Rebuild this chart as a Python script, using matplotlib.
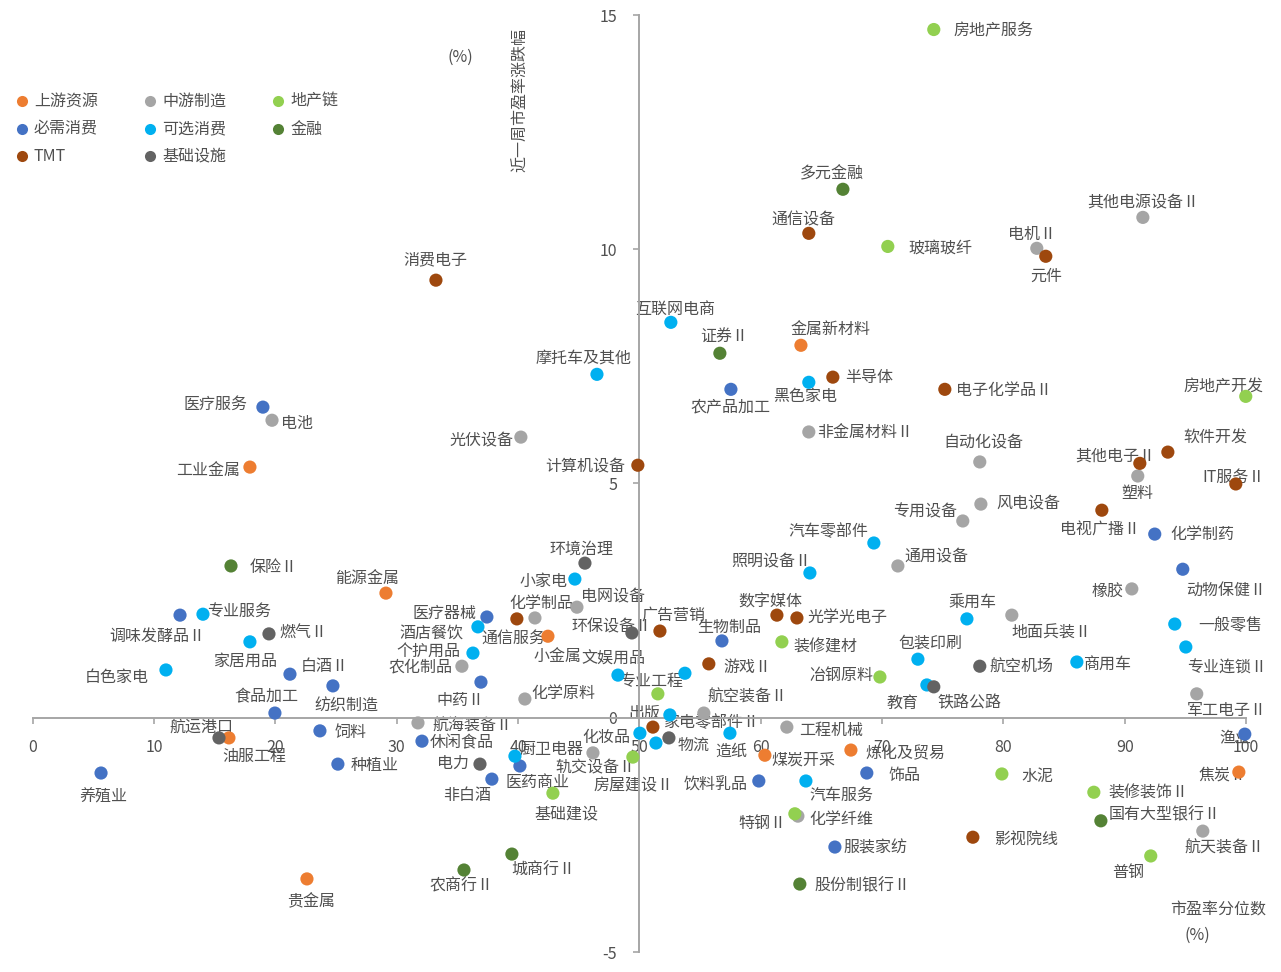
import matplotlib
matplotlib.use('Agg')
import matplotlib.pyplot as plt
from matplotlib.lines import Line2D

plt.rcParams['font.family'] = ['Noto Sans CJK SC', 'DejaVu Sans']
plt.rcParams['axes.unicode_minus'] = False

W, H = 1281, 972

# 行业分组及颜色
group_names = ['上游资源', '中游制造', '地产链', '必需消费', '可选消费', '金融', 'TMT', '基础设施']
group_colors = ['#ED7D31', '#A5A5A5', '#92D050', '#4472C4', '#00B0F0', '#548235', '#9E480E', '#636363']

# x: 市盈率分位数(%)  y: 近一周市盈率涨跌幅(%)
upstream_names = ['工业金属', '金属新材料', '能源金属', '小金属', '油服工程', '煤炭开采', '炼化及贸易', '焦炭Ⅱ', '贵金属']
upstream_pe = [17.91, 63.32, 29.12, 42.47, 16.18, 60.35, 67.44, 99.41, 22.61]
upstream_chg = [5.35, 7.95, 2.66, 1.74, -0.43, -0.80, -0.69, -1.16, -3.44]

midstream_names = ['电机Ⅱ', '其他电源设备Ⅱ', '电池', '光伏设备', '非金属材料Ⅱ', '自动化设备', '塑料', '风电设备',
                   '专用设备', '通用设备', '橡胶', '地面兵装Ⅱ', '军工电子Ⅱ', '航空装备Ⅱ', '工程机械', '化学制品',
                   '电网设备', '农化制品', '化学原料', '航海装备Ⅱ', '轨交设备Ⅱ', '化学纤维', '航天装备Ⅱ']
midstream_pe = [82.76, 91.50, 19.73, 40.24, 63.97, 78.06, 91.08, 78.15, 76.66, 71.31, 90.59, 80.70, 95.94,
                55.32, 62.16, 41.40, 44.86, 35.38, 40.57, 31.76, 46.18, 63.07, 96.44]
midstream_chg = [10.02, 10.68, 6.35, 5.99, 6.10, 5.46, 5.16, 4.56, 4.20, 3.24, 2.75, 2.19, 0.51,
                 0.10, -0.20, 2.13, 2.36, 1.10, 0.40, -0.11, -0.75, -2.10, -2.42]

property_names = ['房地产服务', '玻璃玻纤', '房地产开发', '装修建材', '冶钢原料', '专业工程', '房屋建设Ⅱ', '基础建设',
                  '水泥', '装修装饰Ⅱ', '特钢Ⅱ', '普钢']
property_pe = [74.27, 70.48, 99.98, 61.75, 69.83, 51.53, 49.47, 42.88, 79.88, 87.46, 62.82, 92.15]
property_chg = [14.69, 10.06, 6.86, 1.62, 0.87, 0.51, -0.84, -1.61, -1.20, -1.59, -2.05, -2.95]

staples_names = ['医疗服务', '农产品加工', '化学制药', '动物保健Ⅱ', '生物制品', '调味发酵品Ⅱ', '白酒Ⅱ', '纺织制造',
                 '食品加工', '饲料', '休闲食品', '医疗器械', '中药Ⅱ', '医药商业', '非白酒', '种植业', '养殖业',
                 '渔业', '饮料乳品', '饰品', '服装家纺']
staples_pe = [18.98, 57.55, 92.48, 94.79, 56.81, 12.15, 21.21, 24.75, 19.97, 23.68, 32.09, 37.44, 36.95,
              40.16, 37.85, 25.16, 5.64, 99.90, 59.85, 68.75, 66.12]
staples_chg = [6.63, 7.01, 3.92, 3.17, 1.64, 2.19, 0.93, 0.68, 0.10, -0.28, -0.50, 2.15, 0.76,
               -1.03, -1.31, -0.99, -1.18, -0.35, -1.35, -1.18, -2.76]

optional_names = ['互联网电商', '摩托车及其他', '黑色家电', '汽车零部件', '照明设备Ⅱ', '小家电', '乘用车', '一般零售',
                  '专业连锁Ⅱ', '包装印刷', '商用车', '教育', '专业服务', '家居用品', '白色家电', '酒店餐饮',
                  '个护用品', '文娱用品', '', '家电零部件Ⅱ', '化妆品', '', '造纸', '厨卫电器', '汽车服务']
optional_pe = [52.60, 46.51, 63.97, 69.33, 64.06, 44.69, 77.00, 94.13, 95.04, 72.96, 86.06, 73.70, 14.04,
               17.91, 10.99, 36.70, 36.29, 48.24, 53.76, 52.52, 50.05, 51.37, 57.47, 39.75, 63.73]
optional_chg = [8.44, 7.33, 7.16, 3.73, 3.09, 2.96, 2.11, 2.00, 1.51, 1.25, 1.19, 0.70, 2.21,
                1.62, 1.02, 1.94, 1.38, 0.91, 0.95, 0.06, -0.33, -0.54, -0.33, -0.82, -1.35]

finance_names = ['多元金融', '证券Ⅱ', '保险Ⅱ', '国有大型银行Ⅱ', '股份制银行Ⅱ', '城商行Ⅱ', '农商行Ⅱ']
finance_pe = [66.78, 56.64, 16.35, 88.04, 63.23, 39.50, 35.55]
finance_chg = [11.28, 7.78, 3.24, -2.20, -3.55, -2.91, -3.25]

tmt_names = ['消费电子', '通信设备', '元件', '计算机设备', '半导体', '电子化学品Ⅱ', '软件开发', '其他电子Ⅱ', 'IT服务Ⅱ',
             '电视广播Ⅱ', '数字媒体', '光学光电子', '广告营销', '游戏Ⅱ', '通信服务', '出版', '影视院线']
tmt_pe = [33.24, 63.97, 83.50, 49.88, 65.95, 75.18, 93.56, 91.25, 99.16, 88.12, 61.34, 62.99, 51.70,
          55.73, 39.91, 51.12, 77.49]
tmt_chg = [9.34, 10.34, 9.85, 5.39, 7.27, 7.01, 5.67, 5.43, 4.99, 4.43, 2.19, 2.13, 1.85, 1.15, 2.11,
           -0.20, -2.55]

infra_names = ['环境治理', '燃气Ⅱ', '环保设备Ⅱ', '航空机场', '铁路公路', '航运港口', '物流', '电力']
infra_pe = [45.52, 19.48, 49.39, 78.06, 74.27, 15.36, 52.44, 36.87]
infra_chg = [3.30, 1.79, 1.81, 1.10, 0.66, -0.43, -0.43, -0.99]

groups = [
    (upstream_names, upstream_pe, upstream_chg),
    (midstream_names, midstream_pe, midstream_chg),
    (property_names, property_pe, property_chg),
    (staples_names, staples_pe, staples_chg),
    (optional_names, optional_pe, optional_chg),
    (finance_names, finance_pe, finance_chg),
    (tmt_names, tmt_pe, tmt_chg),
    (infra_names, infra_pe, infra_chg),
]

# 数据标签位置: 相对点的像素偏移 (dx, dy, 对齐)
label_pos = {
    '消费电子': (-1, 20, 'center'), '通信设备': (-5, 13, 'center'), '元件': (0, -20, 'center'),
    '计算机设备': (-13, -2, 'right'), '半导体': (12, 0, 'left'), '电子化学品Ⅱ': (11, -1, 'left'),
    '软件开发': (48, 15, 'center'), '其他电子Ⅱ': (-25, 7, 'center'), 'IT服务Ⅱ': (-2, 7, 'center'),
    '电视广播Ⅱ': (-2, -20, 'center'), '数字媒体': (-7, 13, 'center'), '光学光电子': (11, 0, 'left'),
    '广告营销': (13, 16, 'center'), '游戏Ⅱ': (15, -4, 'left'), '通信服务': (-4, -19, 'center'),
    '出版': (-9, 14, 'center'), '影视院线': (21, -2, 'left'),
    '工业金属': (-10, -3, 'right'), '金属新材料': (30, 16, 'center'), '能源金属': (-19, 15, 'center'),
    '小金属': (10, -20, 'center'), '油服工程': (25, -19, 'center'), '煤炭开采': (7, -5, 'left'),
    '炼化及贸易': (15, -4, 'left'), '焦炭Ⅱ': (-16, -3, 'center'), '贵金属': (4, -23, 'center'),
    '电机Ⅱ': (-5, 14, 'center'), '其他电源设备Ⅱ': (0, 14, 'center'), '电池': (9, -3, 'left'),
    '光伏设备': (-7, -4, 'right'), '非金属材料Ⅱ': (8, -1, 'left'), '自动化设备': (4, 19, 'center'),
    '塑料': (0, -17, 'center'), '风电设备': (15, 0, 'left'), '专用设备': (-38, 9, 'center'),
    '通用设备': (38, 9, 'center'), '橡胶': (-8, -3, 'right'), '地面兵装Ⅱ': (40, -18, 'center'),
    '军工电子Ⅱ': (30, -17, 'center'), '航空装备Ⅱ': (44, 16, 'center'), '工程机械': (12, -3, 'left'),
    '化学制品': (6, 14, 'center'), '电网设备': (36, 10, 'center'), '农化制品': (-9, -1, 'right'),
    '化学原料': (7, 6, 'left'), '航海装备Ⅱ': (14, -3, 'left'), '轨交设备Ⅱ': (2, -15, 'center'),
    '化学纤维': (11, -3, 'left'), '航天装备Ⅱ': (22, -17, 'center'),
    '房地产服务': (20, -1, 'left'), '玻璃玻纤': (21, -2, 'left'), '房地产开发': (-22, 9, 'center'),
    '装修建材': (12, -5, 'left'), '冶钢原料': (-39, 1, 'center'), '专业工程': (-7, 12, 'center'),
    '房屋建设Ⅱ': (1, -29, 'center'), '基础建设': (14, -21, 'center'), '水泥': (20, -2, 'left'),
    '装修装饰Ⅱ': (15, -1, 'left'), '特钢Ⅱ': (-32, -10, 'center'), '普钢': (-23, -17, 'center'),
    '多元金融': (-11, 15, 'center'), '证券Ⅱ': (4, 16, 'center'), '保险Ⅱ': (19, -2, 'left'),
    '国有大型银行Ⅱ': (8, 6, 'left'), '股份制银行Ⅱ': (15, -2, 'left'), '城商行Ⅱ': (31, -16, 'center'),
    '农商行Ⅱ': (-2, -16, 'center'),
    '医疗服务': (-15, 3, 'right'), '农产品加工': (0, -18, 'center'), '化学制药': (16, 0, 'left'),
    '动物保健Ⅱ': (43, -21, 'center'), '生物制品': (7, 13, 'center'), '调味发酵品Ⅱ': (-23, -21, 'center'),
    '白酒Ⅱ': (11, 8, 'left'), '纺织制造': (13, -20, 'center'), '食品加工': (-9, 16, 'center'),
    '饲料': (15, -2, 'left'), '休闲食品': (8, -2, 'left'), '医疗器械': (-42, 4, 'center'),
    '中药Ⅱ': (-20, -18, 'center'), '医药商业': (18, -16, 'center'), '非白酒': (-25, -16, 'center'),
    '种植业': (13, -1, 'left'), '养殖业': (2, -24, 'center'), '渔业': (-9, -5, 'center'),
    '饮料乳品': (-11, -4, 'right'), '饰品': (22, -2, 'left'), '服装家纺': (9, -1, 'left'),
    '互联网电商': (4, 13, 'center'), '摩托车及其他': (-13, 16, 'center'), '黑色家电': (-4, -14, 'center'),
    '汽车零部件': (-45, 11, 'center'), '照明设备Ⅱ': (-39, 11, 'center'), '小家电': (-7, -2, 'right'),
    '乘用车': (6, 16, 'center'), '一般零售': (23, -2, 'left'), '专业连锁Ⅱ': (41, -21, 'center'),
    '包装印刷': (13, 16, 'center'), '商用车': (6, -3, 'left'), '教育': (-24, -18, 'center'),
    '专业服务': (4, 2, 'left'), '家居用品': (-5, -19, 'center'), '白色家电': (-17, -8, 'right'),
    '酒店餐饮': (-14, -6, 'right'), '个护用品': (-13, 2, 'right'), '文娱用品': (-5, 16, 'center'),
    '家电零部件Ⅱ': (-7, -8, 'left'), '化妆品': (-10, -4, 'right'), '造纸': (1, -18, 'center'),
    '厨卫电器': (37, 7, 'center'), '汽车服务': (36, -14, 'center'),
    '环境治理': (-3, 14, 'center'), '燃气Ⅱ': (10, 1, 'left'), '环保设备Ⅱ': (-20, 6, 'center'),
    '航空机场': (10, -1, 'left'), '铁路公路': (36, -16, 'center'), '航运港口': (-18, 10, 'center'),
    '物流': (9, -7, 'left'), '电力': (-11, 1, 'right'),
}

text_color = '#505050'
axis_color = '#A6A6A6'
label_size = 11.5

fig = plt.figure(figsize=(W / 100, H / 100), dpi=100)
ax = fig.add_axes([32.6 / W, 20 / H, (1246 - 32.6) / W, (952 - 15) / H])
ax.set_xlim(0, 100)
ax.set_ylim(-5, 15)

ax.spines['top'].set_visible(False)
ax.spines['right'].set_visible(False)
ax.spines['left'].set_position(('data', 50))
ax.spines['bottom'].set_position(('data', 0))
for side in ['left', 'bottom']:
    ax.spines[side].set_color(axis_color)
    ax.spines[side].set_linewidth(1.4)

ax.set_xticks(range(0, 101, 10))
ax.set_yticks([-5, 0, 5, 10, 15])
ax.tick_params(axis='both', direction='out', length=4, width=1.2, color=axis_color,
               labelcolor=text_color, labelsize=label_size)
ax.tick_params(axis='x', pad=11)
ax.tick_params(axis='y', pad=12)

for (names, xs, ys), color in zip(groups, group_colors):
    ax.scatter(xs, ys, s=90, color=color, edgecolors='none', zorder=3, clip_on=False)
    for name, x, y in zip(names, xs, ys):
        if not name:
            continue
        dx, dy, ha = label_pos[name]
        ax.annotate(name, (x, y), xytext=(dx, dy), textcoords='offset pixels',
                    ha=ha, va='center', fontsize=label_size, color=text_color, zorder=2,
                    annotation_clip=False)


def fpx(x, y):
    return x / W, 1 - y / H


# 轴标题
fig.text(*fpx(521, 100), '近一周市盈率涨跌幅', rotation=90, ha='center', va='center',
         fontsize=label_size, color=text_color)
fig.text(*fpx(460, 57), '(%)', ha='center', va='center', fontsize=label_size, color=text_color)
fig.text(*fpx(1218, 910), '市盈率分位数', ha='center', va='center', fontsize=label_size, color=text_color)
fig.text(*fpx(1197, 935), '(%)', ha='center', va='center', fontsize=label_size, color=text_color)

# 图例
legend_cols = [22, 150, 278]
legend_rows = [101, 129, 156]
legend_order = ['上游资源', '中游制造', '地产链', '必需消费', '可选消费', '金融', 'TMT', '基础设施']
for i, name in enumerate(legend_order):
    color = group_colors[group_names.index(name)]
    lx, ly = legend_cols[i % 3], legend_rows[i // 3]
    fig.add_artist(Line2D([lx / W], [1 - ly / H], transform=fig.transFigure, marker='o',
                          markersize=8, color=color, markeredgecolor='none', linestyle='none'))
    fig.text(*fpx(lx + 12, ly), name, ha='left', va='center', fontsize=label_size, color=text_color)

fig.savefig('out.png', dpi=100)
